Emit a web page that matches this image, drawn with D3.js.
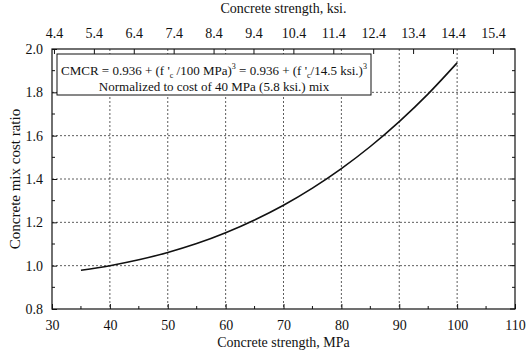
<!DOCTYPE html>
<html><head><meta charset="utf-8">
<script src="https://cdn.jsdelivr.net/npm/d3@7"></script>
<style>body{margin:0;background:#fff}svg{display:block}svg text{font-family:"Liberation Serif","Times New Roman",serif !important;fill:#111}</style>
</head><body>
<script>
const strengthMPa = [35,40,45,50,55,60,65,70,75,80,85,90,95,100];
const costRatio   = [0.979,1.000,1.027,1.061,1.102,1.152,1.211,1.279,1.358,1.448,1.550,1.665,1.793,1.936];
const xTicks = [30,40,50,60,70,80,90,100,110];
const yTicks = [0.8,1.0,1.2,1.4,1.6,1.8,2.0];
const ksiTicks = [4.4,5.4,6.4,7.4,8.4,9.4,10.4,11.4,12.4,13.4,14.4,15.4];
const MPA_PER_KSI = 6.895;

const W=529,H=356, L=52,R=515,T=49,B=309;
const svg=d3.select("body").append("svg").attr("width",W).attr("height",H);
const x=d3.scaleLinear().domain([30,110]).range([L,R]);
const y=d3.scaleLinear().domain([0.8,2.0]).range([B,T]);

// gridlines
const g=svg.append("g").attr("stroke","#333").attr("stroke-width",0.8).attr("stroke-dasharray","2,2");
xTicks.filter(v=>v>30&&v<110).forEach(v=>g.append("line").attr("x1",x(v)).attr("x2",x(v)).attr("y1",T).attr("y2",B));
yTicks.filter(v=>v>0.8&&v<2.0).forEach(v=>g.append("line").attr("x1",L).attr("x2",R).attr("y1",y(v)).attr("y2",y(v)));

// bottom axis
const xb=svg.append("g").attr("transform",`translate(0,${B})`)
 .call(d3.axisBottom(x).tickValues(xTicks).tickSize(-5).tickPadding(11).tickFormat(d3.format("d")));
xb.select(".domain").remove();
d3.range(35,110,10).forEach(v=>svg.append("line").attr("x1",x(v)).attr("x2",x(v)).attr("y1",B).attr("y2",B-3).attr("stroke","#111"));
// left axis
const yl=svg.append("g").attr("transform",`translate(${L},0)`)
 .call(d3.axisLeft(y).tickValues(yTicks).tickSize(-5).tickPadding(9).tickFormat(d3.format(".1f")));
yl.select(".domain").remove();
d3.range(0.9,2.0,0.2).forEach(v=>{
  svg.append("line").attr("x1",L).attr("x2",L+3).attr("y1",y(v)).attr("y2",y(v)).attr("stroke","#111");
  svg.append("line").attr("x1",R).attr("x2",R-3).attr("y1",y(v)).attr("y2",y(v)).attr("stroke","#111");
});
yTicks.forEach(v=>svg.append("line").attr("x1",R).attr("x2",R-5).attr("y1",y(v)).attr("y2",y(v)).attr("stroke","#111"));
// top axis (ksi)
const xk=d3.scaleLinear().domain([30/MPA_PER_KSI,110/MPA_PER_KSI]).range([L,R]);
const xt=svg.append("g").attr("transform",`translate(0,${T})`)
 .call(d3.axisTop(xk).tickValues(ksiTicks).tickSize(-5).tickPadding(11).tickFormat(d3.format(".1f")));
xt.select(".domain").remove();
[xb,yl,xt].forEach(a=>a.attr("font-family","Liberation Serif").attr("font-size",14));
svg.selectAll(".tick line").attr("stroke","#111");

// frame
svg.append("rect").attr("x",L).attr("y",T).attr("width",R-L).attr("height",B-T).attr("fill","none").attr("stroke","#111").attr("stroke-width",1.2);

// curve
svg.append("path").datum(strengthMPa.map((v,i)=>[v,costRatio[i]]))
 .attr("fill","none").attr("stroke","#111").attr("stroke-width",1.6)
 .attr("d",d3.line().x(d=>x(d[0])).y(d=>y(d[1])).curve(d3.curveMonotoneX));

// legend box
svg.append("rect").attr("x",57).attr("y",54).attr("width",314).attr("height",41).attr("fill","#fff").attr("stroke","#111").attr("stroke-width",1);
const t1=svg.append("text").attr("x",214).attr("y",75).attr("text-anchor","middle").attr("font-size",13);
t1.append("tspan").text("CMCR = 0.936 + (f '");
t1.append("tspan").attr("font-size",8).attr("dy",3).text("c");
t1.append("tspan").attr("dy",-3).text(" /100 MPa)");
t1.append("tspan").attr("font-size",8).attr("dy",-6).text("3");
t1.append("tspan").attr("dy",6).text(" = 0.936 + (f '");
t1.append("tspan").attr("font-size",8).attr("dy",3).text("c");
t1.append("tspan").attr("dy",-3).text("/14.5 ksi.)");
t1.append("tspan").attr("font-size",8).attr("dy",-6).text("3");
svg.append("text").attr("x",214).attr("y",91).attr("text-anchor","middle").attr("font-size",13)
 .text("Normalized to cost of 40 MPa (5.8 ksi.) mix");

// axis titles
svg.append("text").attr("x",(L+R)/2).attr("y",347).attr("text-anchor","middle").attr("font-size",14).text("Concrete strength, MPa");
svg.append("text").attr("x",(L+R)/2).attr("y",13).attr("text-anchor","middle").attr("font-size",14).text("Concrete strength, ksi.");
svg.append("text").attr("transform",`translate(20,${(T+B)/2}) rotate(-90)`).attr("text-anchor","middle").attr("font-size",15).text("Concrete mix cost ratio");
</script>
</body></html>
